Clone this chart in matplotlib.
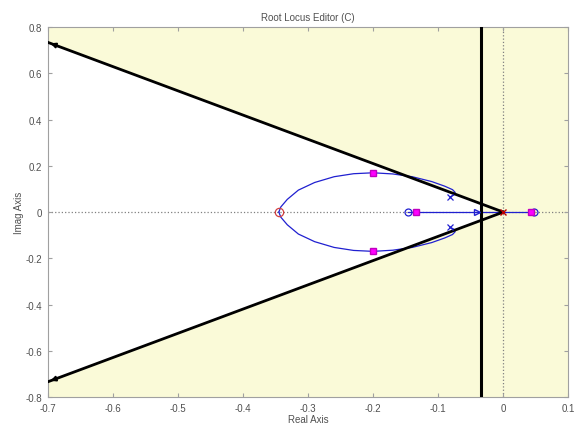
import numpy as np
import matplotlib
matplotlib.use("Agg")
import matplotlib.pyplot as plt

plt.rcParams['font.family'] = ['Liberation Sans', 'DejaVu Sans']

# design constraints
zeta = 0.69
sigma_bound = -0.035
ray_end_x = -0.70

# open-loop poles / zeros
plant_poles_re = [-0.082, -0.082]
plant_poles_im = [0.065, -0.065]
plant_zeros_re = [-0.146, 0.047]
comp_pole_re = [0.0]
comp_zero_re = [-0.345]

# closed-loop poles
cl_re = [-0.2, -0.2, -0.134, 0.043]
cl_im = [0.169, -0.169, 0.0, 0.0]

# upper locus branch, lower one is its conjugate
loc_re = [-0.082, -0.076, -0.074, -0.078, -0.090, -0.110, -0.140, -0.170,
          -0.200, -0.230, -0.260, -0.290, -0.315, -0.332, -0.342, -0.345]
loc_im = [0.065, 0.074, 0.085, 0.097, 0.112, 0.132, 0.153, 0.165,
          0.170, 0.166, 0.153, 0.128, 0.095, 0.055, 0.022, 0.0]
real_seg1 = [-0.146, 0.0]
real_seg2 = [0.0, 0.047]

yellow = '#fafad8'
blue = '#2020d0'
grey = '#505050'

fig, ax = plt.subplots(figsize=(5.77, 4.27), dpi=100)
fig.subplots_adjust(left=0.083, right=0.985, top=0.934, bottom=0.068)

ax.set_xlim(-0.7, 0.1)
ax.set_ylim(-0.8, 0.8)
ax.set_facecolor(yellow)

slope = np.tan(np.arccos(zeta))
yb = -sigma_bound * slope
ye = -ray_end_x * slope
ax.fill([sigma_bound, ray_end_x, ray_end_x, sigma_bound], [yb, ye, -ye, -yb],
        color='white', zorder=0)

ax.axhline(0, color='#808080', ls=':', lw=0.9, zorder=1)
ax.axvline(0, color='#808080', ls=':', lw=0.9, zorder=1)

# damping rays and settling boundary
for s in (1, -1):
    ax.plot([0, ray_end_x], [0, s * ye], color='black', lw=2.0, zorder=3)
    ax.annotate('', xy=(ray_end_x, s * ye), xytext=(ray_end_x + 0.02, s * (ye - 0.02 * slope)),
                arrowprops=dict(arrowstyle='-|>', color='black', lw=1.5,
                                mutation_scale=7), zorder=4)
ax.axvline(sigma_bound, color='black', lw=2.2, zorder=3)

# locus
re = np.array(loc_re)
im = np.array(loc_im)
ax.plot(re, im, color=blue, lw=0.9, zorder=2)
ax.plot(re, -im, color=blue, lw=0.9, zorder=2)
ax.plot(real_seg1, [0, 0], color=blue, lw=0.9, zorder=2)
ax.plot(real_seg2, [0, 0], color=blue, lw=0.9, zorder=2)
ax.plot([-0.04], [0], marker='>', ms=4, mfc='none', mec=blue, zorder=3)

ax.plot(plant_poles_re, plant_poles_im, 'x', color=blue, ms=4, mew=0.9, zorder=4)
ax.plot(plant_zeros_re, [0, 0], 'o', mfc='none', mec=blue, ms=5, mew=0.9, zorder=4)
ax.plot(comp_pole_re, [0], 'x', color='#c00000', ms=4, mew=1.0, zorder=5)
ax.plot(comp_zero_re, [0], 'o', mfc='none', mec='#d04040', ms=6, mew=0.9, zorder=4)
ax.plot(cl_re, cl_im, 's', color='#ff00ff', mec='#c000c0', ms=5, zorder=6)

ax.set_xticks(np.arange(-0.7, 0.11, 0.1))
ax.set_yticks(np.arange(-0.8, 0.81, 0.2))
ax.set_xticklabels(['-0.7', '-0.6', '-0.5', '-0.4', '-0.3', '-0.2', '-0.1', '0', '0.1'])
ax.set_yticklabels(['-0.8', '-0.6', '-0.4', '-0.2', '0', '0.2', '0.4', '0.6', '0.8'])
ax.tick_params(direction='in', length=3, top=True, right=True, labelsize=7,
               colors='#a0a0a0', labelcolor=grey)
ax.tick_params(axis='x', pad=4)
ax.tick_params(axis='y', pad=4)
for sp in ax.spines.values():
    sp.set_color('#a0a0a0')

ax.set_title('Root Locus Editor (C)', fontsize=7, color=grey, pad=5)
ax.set_xlabel('Real Axis', fontsize=7, color=grey, labelpad=1)
ax.set_ylabel('Imag Axis', fontsize=7, color=grey, labelpad=1)

fig.savefig('out.png', dpi=100)
